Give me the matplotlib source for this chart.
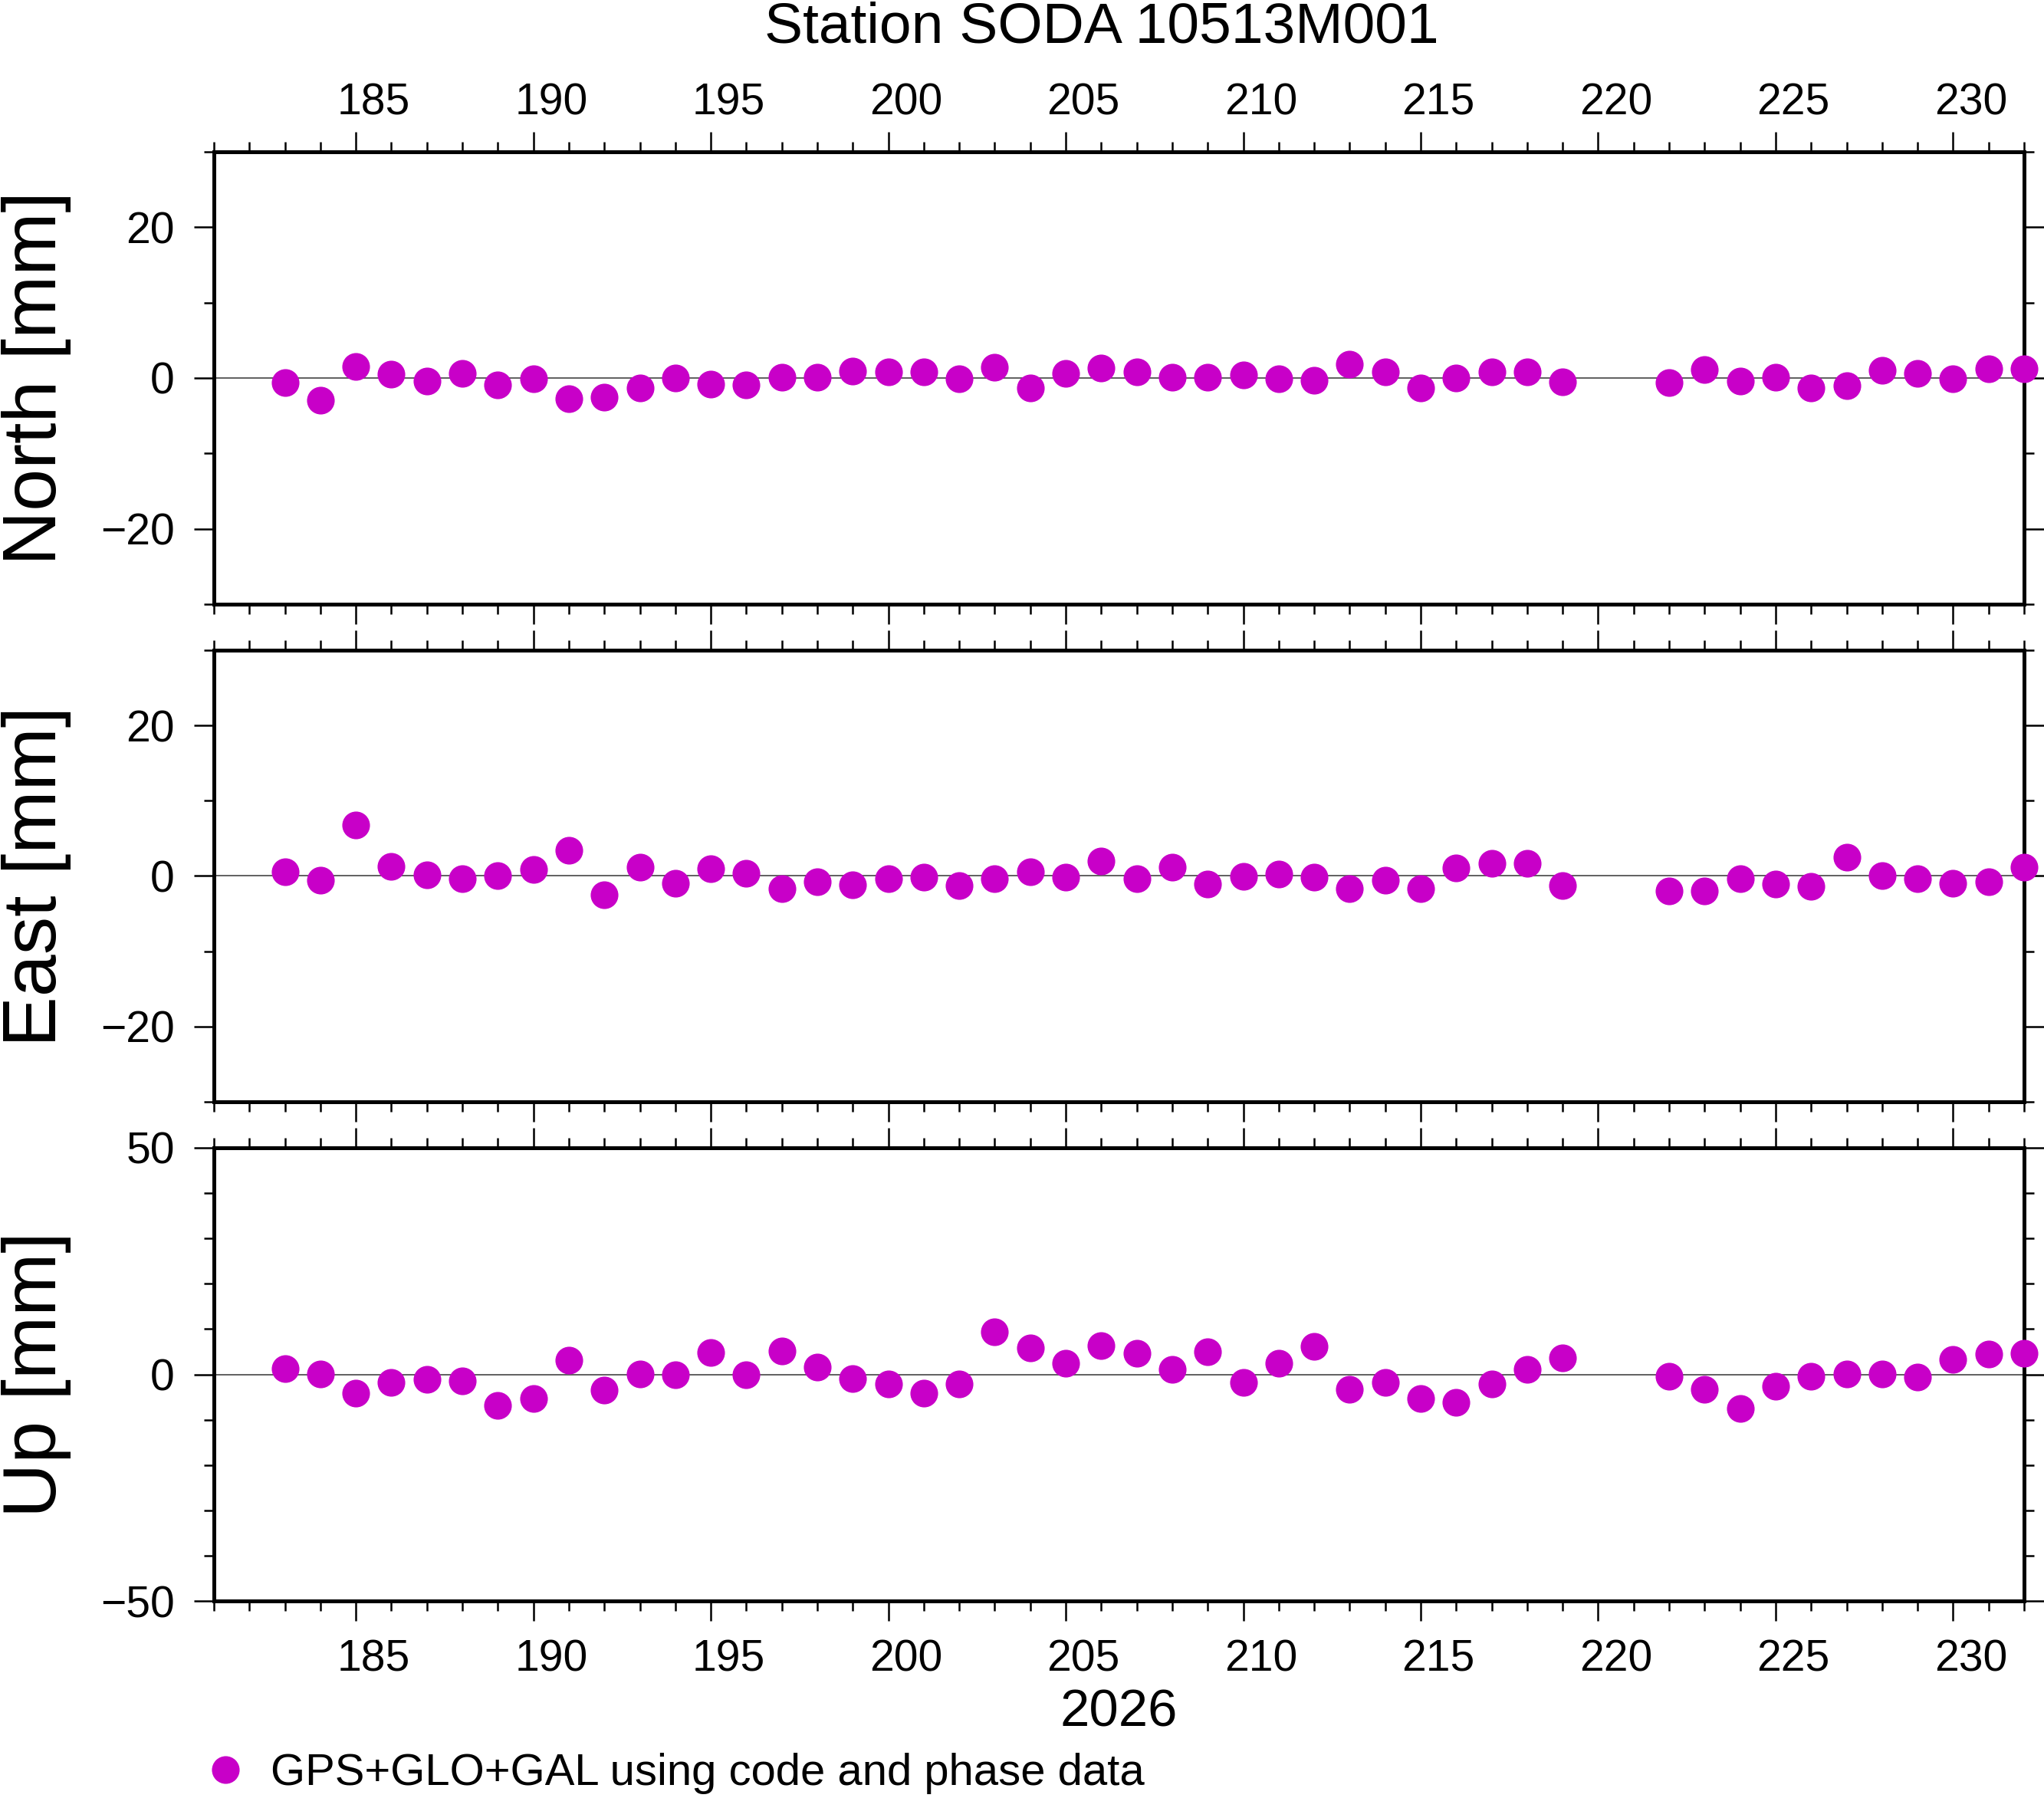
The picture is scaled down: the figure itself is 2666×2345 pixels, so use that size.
import matplotlib
matplotlib.use('Agg')
import matplotlib.pyplot as plt
import matplotlib.transforms as mtransforms
from matplotlib.ticker import MultipleLocator, NullFormatter

plt.rcParams['font.family'] = ['Liberation Sans', 'DejaVu Sans']

# ---------------- data ----------------
days = list(range(183, 220)) + list(range(222, 233))

north = [-0.6, -2.9, 1.55, 0.5, -0.36, 0.57, -0.9, -0.1, -2.7, -2.5,
         -1.3, -0.05, -0.8, -0.9, 0.15, 0.15, 0.9, 0.8, 0.8, -0.15,
         1.4, -1.35, 0.57, 1.35, 0.78, 0.15, 0.15, 0.36, -0.15, -0.26,
         1.87, 0.78, -1.35, -0.05, 0.78, 0.78, -0.47,
         -0.57, 1.1, -0.36, 0.15, -1.35, -1.0, 1.0, 0.62, -0.15, 1.2, 1.2]

east = [0.54, -0.6, 6.76, 1.3, 0.18, -0.4, 0.05, 0.9, 3.45, -2.54,
        1.13, -1.0, 1.0, 0.4, -1.72, -0.73, -1.18, -0.4, -0.14, -1.27,
        -0.36, 0.54, -0.18, 1.95, -0.4, 1.22, -1.09, -0.09, 0.23, -0.18,
        -1.63, -0.6, -1.72, 1.04, 1.72, 1.72, -1.3,
        -2.0, -2.0, -0.4, -1.09, -1.36, 2.45, 0.09, -0.4, -0.95, -0.73, 1.22]

up = [1.2, 0.1, -4.1, -1.77, -1.1, -1.5, -6.8, -5.4, 3.07, -3.44,
      0.1, -0.1, 4.9, -0.1, 5.1, 1.58, -0.93, -2.04, -4.2, -2.04,
      9.4, 5.76, 2.5, 6.3, 4.65, 1.1, 5.0, -1.77, 2.5, 6.1,
      -3.25, -1.77, -5.3, -6.1, -2.04, 1.1, 3.7,
      -0.37, -3.25, -7.6, -2.6, -0.37, 0.1, 0.1, -0.56, 3.35, 4.55, 4.65]

title = "Station SODA 10513M001"
year_label = "2026"
legend_label = "GPS+GLO+GAL using code and phase data"
ylabels = ["North [mm]", "East [mm]", "Up [mm]"]
series = [north, east, up]
ylims = [(-30, 30), (-30, 30), (-50, 50)]
ymajor = [20, 20, 50]
yminor = [10, 10, 10]
xlim = (181, 232)
xlabel_days = list(range(185, 231, 5))

# ---------------- figure ----------------
W, H = 2666, 2345
DPI = 200
fig = plt.figure(figsize=(W / DPI, H / DPI), dpi=DPI)

COLOR = '#c800c8'
left_px, right_px = 279, 2640
panels_px = [(198, 788), (848, 1437), (1497, 2088)]

def rect(top, bottom):
    return [left_px / W, 1 - bottom / H, (right_px - left_px) / W, (bottom - top) / H]

axes = []
for i, (top, bottom) in enumerate(panels_px):
    ax = fig.add_axes(rect(top, bottom))
    axes.append(ax)
    ax.set_xlim(*xlim)
    ax.set_ylim(*ylims[i])
    ax.axhline(0, color='#444444', lw=0.6, zorder=1)
    line, = ax.plot(days, series[i], 'o', ls='none', ms=12, color=COLOR,
                    mec=COLOR, clip_on=False, zorder=5, label=legend_label)
    if i == 0:
        legend_handle = line

    for s in ax.spines.values():
        s.set_linewidth(1.8)
        s.set_zorder(4)

    ax.xaxis.set_major_locator(MultipleLocator(5))
    ax.xaxis.set_minor_locator(MultipleLocator(1))
    ax.xaxis.set_major_formatter(NullFormatter())
    ax.yaxis.set_major_locator(MultipleLocator(ymajor[i]))
    ax.yaxis.set_minor_locator(MultipleLocator(yminor[i]))

    ax.tick_params(axis='both', which='both', direction='out', width=0.9,
                   colors='black')
    ax.tick_params(axis='both', which='major', length=9.4)
    ax.tick_params(axis='both', which='minor', length=4.7)
    ax.tick_params(axis='x', which='both', top=True, bottom=True,
                   labeltop=False, labelbottom=False)
    ax.tick_params(axis='y', which='both', left=True, right=True,
                   labelleft=True, labelright=False, labelsize=20.5, pad=9)

    # y label
    cy = 1 - (top + bottom) / 2 / H
    fig.text(73 / W, cy, ylabels[i], rotation=90, rotation_mode='anchor',
             ha='center', va='baseline', fontsize=35.5)

# x day labels (centred in the day interval)
ax_top, ax_bot = axes[0], axes[2]
tr_top = mtransforms.blended_transform_factory(ax_top.transData, ax_top.transAxes)
tr_top = mtransforms.offset_copy(tr_top, fig=fig, y=48, units='dots')
tr_bot = mtransforms.blended_transform_factory(ax_bot.transData, ax_bot.transAxes)
tr_bot = mtransforms.offset_copy(tr_bot, fig=fig, y=-91, units='dots')
for d in xlabel_days:
    ax_top.text(d + 0.5, 1, str(d), transform=tr_top, ha='center',
                va='baseline', fontsize=20.5, clip_on=False)
    ax_bot.text(d + 0.5, 0, str(d), transform=tr_bot, ha='center',
                va='baseline', fontsize=20.5, clip_on=False)

# title and year
fig.text(1437 / W, 1 - 56 / H, title, ha='center', va='baseline', fontsize=27)
fig.text(1459 / W, 1 - 2251 / H, year_label, ha='center', va='baseline', fontsize=24.8)

# legend
fig.legend(handles=[legend_handle], labels=[legend_label], loc='center left',
           bbox_to_anchor=(264.5 / W, 1 - 2313 / H), frameon=False,
           borderpad=0, borderaxespad=0, handlelength=1.0, handletextpad=0.52,
           numpoints=1, fontsize=20.9)

fig.savefig('out.png', dpi=DPI, facecolor='white')
